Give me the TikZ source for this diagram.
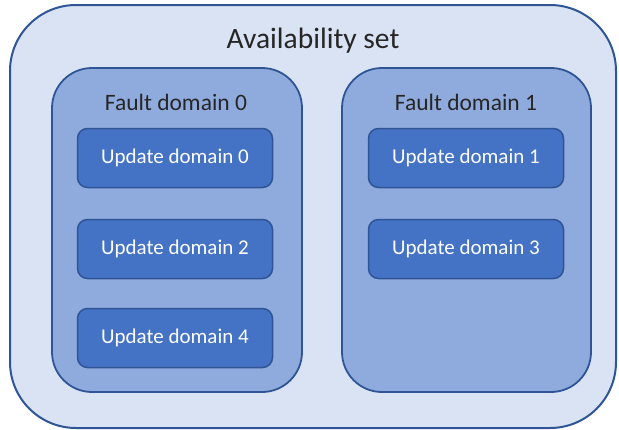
\documentclass[tikz,border=0pt]{standalone}
\usepackage{fontspec}
\setmainfont{Carlito}
\definecolor{outerfill}{HTML}{DAE3F3}
\definecolor{midfill}{HTML}{8FAADC}
\definecolor{innerfill}{HTML}{4472C4}
\definecolor{edge}{HTML}{2F5597}
\definecolor{txt}{HTML}{262626}
\begin{document}
\begin{tikzpicture}[x=1pt,y=-1pt,
  setbox/.style={draw=edge,fill=outerfill,line width=2pt,rounded corners=66pt},
  faultbox/.style={draw=edge,fill=midfill,line width=1.8pt,rounded corners=40pt},
  updbox/.style={draw=edge,fill=innerfill,line width=1.5pt,rounded corners=10pt,
    minimum width=195pt,minimum height=59pt,inner sep=0pt,text=white,font=\fontsize{21}{24}\selectfont},
  lbl/.style={text=txt,inner sep=0pt}]
\useasboundingbox (0,0) rectangle (619,429);
\draw[setbox] (10,5) rectangle (616,428);
\node[lbl,font=\fontsize{29.5}{34}\selectfont] (title) at (313,41) {Availability set};
\draw[faultbox] (52,68) rectangle (302,392);
\draw[faultbox] (342,68) rectangle (591,392);
\node[lbl,font=\fontsize{23.5}{27}\selectfont] (fd0) at (176,102) {Fault domain 0};
\node[lbl,font=\fontsize{23.5}{27}\selectfont] (fd1) at (466,102) {Fault domain 1};
\node[updbox] (ud0) at (175,158) {Update domain 0};
\node[updbox] (ud2) at (175,249) {Update domain 2};
\node[updbox] (ud4) at (175,338) {Update domain 4};
\node[updbox] (ud1) at (466,158) {Update domain 1};
\node[updbox] (ud3) at (466,249) {Update domain 3};
\end{tikzpicture}
\end{document}
